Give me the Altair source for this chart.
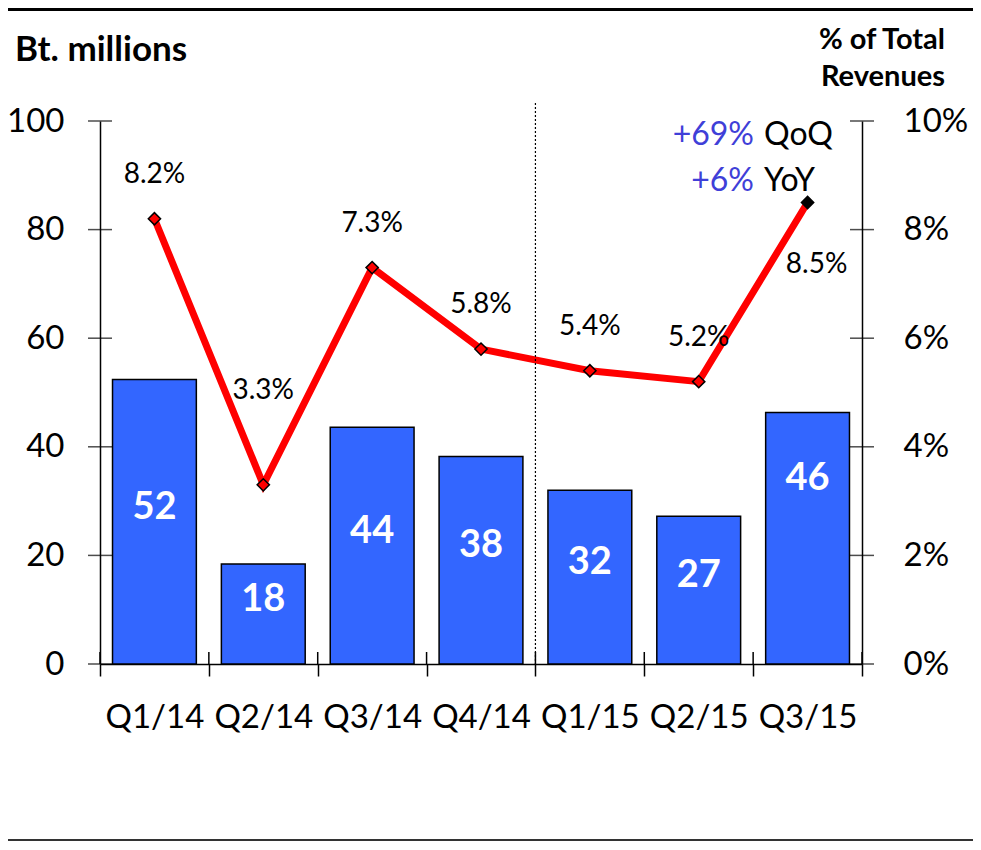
import altair as alt
import pandas as pd

# ---------------- data ----------------
quarters = ["Q1/14", "Q2/14", "Q3/14", "Q4/14", "Q1/15", "Q2/15", "Q3/15"]
expense_bt_mn = [52.4, 18.4, 43.6, 38.2, 32.0, 27.2, 46.3]
bar_labels = ["52", "18", "44", "38", "32", "27", "46"]
pct_of_revenue = [8.2, 3.3, 7.3, 5.8, 5.4, 5.2, 8.5]
left_ticks = [0, 20, 40, 60, 80, 100]
right_ticks = [0, 2, 4, 6, 8, 10]
left_title = "Bt. millions"
right_title = ["% of Total", "Revenues"]
growth_values = ["+69%", "+6%"]
growth_names = ["QoQ", "YoY"]

# ---------------- layout / style ----------------
W, H = 762, 543
PAD_L, PAD_T = 92, 113
PAD_R = 965 - PAD_L - W
PAD_B = 834 - PAD_T - H
FONT = "Lato"
BLUE_BAR = "#3366FF"
BLUE_TXT = "#3F3FD8"

df = pd.DataFrame({
    "q": quarters,
    "v": expense_bt_mn,
    "lab": bar_labels,
    "p": pct_of_revenue,
})
df["plab"] = [f"{x:.1f}%" for x in pct_of_revenue]

xscale = alt.Scale(paddingInner=0, paddingOuter=0)
x_axis = alt.Axis(
    title=None, orient="bottom", labelAngle=0, labelFont=FONT, labelFontSize=33,
    labelColor="black", labelPadding=41, labelBaseline="middle", tickBand="extent",
    tickSize=12, tickWidth=1.5, tickColor="black", domainColor="black",
    domainWidth=1.5, grid=False,
)
yl_scale = alt.Scale(domain=[0, 100], nice=False)
yr_scale = alt.Scale(domain=[0, 10], nice=False)
yl_axis = alt.Axis(
    title=None, orient="left", values=left_ticks, ticks=False, tickSize=0,
    labelFont=FONT, labelFontSize=33, labelColor="black", labelPadding=36,
    domainColor="black", domainWidth=1.5, grid=False,
)
yr_axis = alt.Axis(
    title=None, orient="right", values=right_ticks, ticks=False, tickSize=0,
    labelExpr="datum.value + '%'", labelFont=FONT, labelFontSize=33,
    labelColor="black", labelPadding=41, domainColor="black", domainWidth=1.5,
    grid=False,
)

base = alt.Chart(df)
X = alt.X("q:N", sort=quarters, scale=xscale, axis=x_axis)

bars = base.mark_bar(
    color=BLUE_BAR, stroke="black", strokeWidth=1.5, width=alt.RelativeBandSize(0.77)
).encode(x=X, y=alt.Y("v:Q", scale=yl_scale, axis=yl_axis))

bar_text_common = dict(color="white", font=FONT, fontSize=38, fontWeight="bold",
                       baseline="middle")
bar_text = base.transform_filter(alt.datum.q != "Q3/15").transform_calculate(
    mid="datum.v / 2"
).mark_text(dy=-14, **bar_text_common).encode(
    x=X, y=alt.Y("mid:Q", scale=yl_scale, axis=yl_axis), text="lab:N"
)
bar_text_last = base.transform_filter(alt.datum.q == "Q3/15").transform_calculate(
    mid="datum.v / 2"
).mark_text(dy=-59, **bar_text_common).encode(
    x=X, y=alt.Y("mid:Q", scale=yl_scale, axis=yl_axis), text="lab:N"
)
lt = alt.Chart(pd.DataFrame({"t": left_ticks})).mark_tick(
    orient="horizontal", size=24, thickness=1.5, color="black"
).encode(x=alt.value(0), y=alt.Y("t:Q", scale=yl_scale, axis=yl_axis))

# inner halves of the category-boundary ticks (outer halves come from the axis)
inner_tick_start = base.mark_rule(color="black", strokeWidth=1.5).encode(
    x=alt.X("q:N", sort=quarters, scale=xscale, axis=x_axis, bandPosition=0),
    y=alt.value(H - 12), y2=alt.value(H),
)
inner_tick_end = base.transform_filter(alt.datum.q == quarters[-1]).mark_rule(
    color="black", strokeWidth=1.5
).encode(
    x=alt.X("q:N", sort=quarters, scale=xscale, axis=x_axis, bandPosition=1),
    y=alt.value(H - 12), y2=alt.value(H),
)

left = alt.layer(bars, bar_text, bar_text_last, lt, inner_tick_start, inner_tick_end)

line = base.mark_line(color="#FF0000", strokeWidth=7).encode(
    x=X, y=alt.Y("p:Q", scale=yr_scale, axis=yr_axis)
)
pts = base.mark_point(shape="diamond", filled=True, size=150, stroke="black",
                      strokeWidth=1.5, opacity=1).encode(
    x=X, y=alt.Y("p:Q", scale=yr_scale, axis=yr_axis),
    fill=alt.condition(alt.datum.q == "Q3/15", alt.value("black"), alt.value("#FF0000")),
)
lab_common = dict(font=FONT, fontSize=28, color="black", baseline="middle")
plab = base.transform_filter(
    (alt.datum.q != "Q2/14") & (alt.datum.q != "Q3/15")
).mark_text(dy=-44, **lab_common).encode(
    x=X, y=alt.Y("p:Q", scale=yr_scale, axis=yr_axis), text="plab:N"
)
plab_q2 = base.transform_filter(alt.datum.q == "Q2/14").mark_text(
    dy=-94, **lab_common
).encode(x=X, y=alt.Y("p:Q", scale=yr_scale, axis=yr_axis), text="plab:N")
plab_last = base.transform_filter(alt.datum.q == "Q3/15").mark_text(
    dy=63, dx=9, **lab_common
).encode(x=X, y=alt.Y("p:Q", scale=yr_scale, axis=yr_axis), text="plab:N")
rt = alt.Chart(pd.DataFrame({"t": right_ticks})).mark_tick(
    orient="horizontal", size=24, thickness=1.5, color="black"
).encode(x=alt.value(W), y=alt.Y("t:Q", scale=yr_scale, axis=yr_axis))

right = alt.layer(line, pts, plab, plab_q2, plab_last, rt)

# ---------------- decorations ----------------
one = pd.DataFrame({"a": [0]})
divider = alt.Chart(one).mark_rule(color="black", strokeWidth=1.2, strokeDash=[2, 2]).encode(
    x=alt.value(W * 4 / len(quarters)), y=alt.value(-18), y2=alt.value(H)
)
top_line = alt.Chart(one).mark_rule(color="black", strokeWidth=3).encode(
    x=alt.value(-PAD_L), x2=alt.value(W + PAD_R), y=alt.value(-111.5)
)
bottom_line = alt.Chart(one).mark_rule(color="#333333", strokeWidth=2).encode(
    x=alt.value(-PAD_L), x2=alt.value(W + PAD_R), y=alt.value(H + 176)
)


def text_mark(txt, x, y, **kw):
    return alt.Chart(pd.DataFrame({"t": [txt]})).mark_text(
        font=FONT, baseline="middle", **kw
    ).encode(x=alt.value(x), y=alt.value(y), text="t:N")


t_left = text_mark(left_title, -85, -71, fontSize=35, fontWeight="bold",
                   align="left", color="black")
t_right1 = text_mark(right_title[0], 845, -81, fontSize=29, fontWeight="bold",
                     align="right", color="black")
t_right2 = text_mark(right_title[1], 845, -44, fontSize=29, fontWeight="bold",
                     align="right", color="black")
g1v = text_mark(growth_values[0], 654, 14, fontSize=32, align="right", color=BLUE_TXT)
g1n = text_mark(growth_names[0], 664, 14, fontSize=32, align="left", color="black")
g2v = text_mark(growth_values[1], 654, 60, fontSize=32, align="right", color=BLUE_TXT)
g2n = text_mark(growth_names[1], 664, 60, fontSize=32, align="left", color="black")

chart = alt.layer(
    left, right, divider, top_line, bottom_line, t_left, t_right1, t_right2,
    g1v, g1n, g2v, g2n,
).resolve_scale(y="independent").resolve_axis(y="independent").properties(
    width=W, height=H,
    autosize=alt.AutoSizeParams(type="none"),
    padding={"left": PAD_L, "top": PAD_T, "right": PAD_R, "bottom": PAD_B},
).configure(
    font=FONT, background="white", view=alt.ViewConfig(stroke=None)
)

chart.save("out.html", embed_options={"renderer": "svg", "actions": False})
